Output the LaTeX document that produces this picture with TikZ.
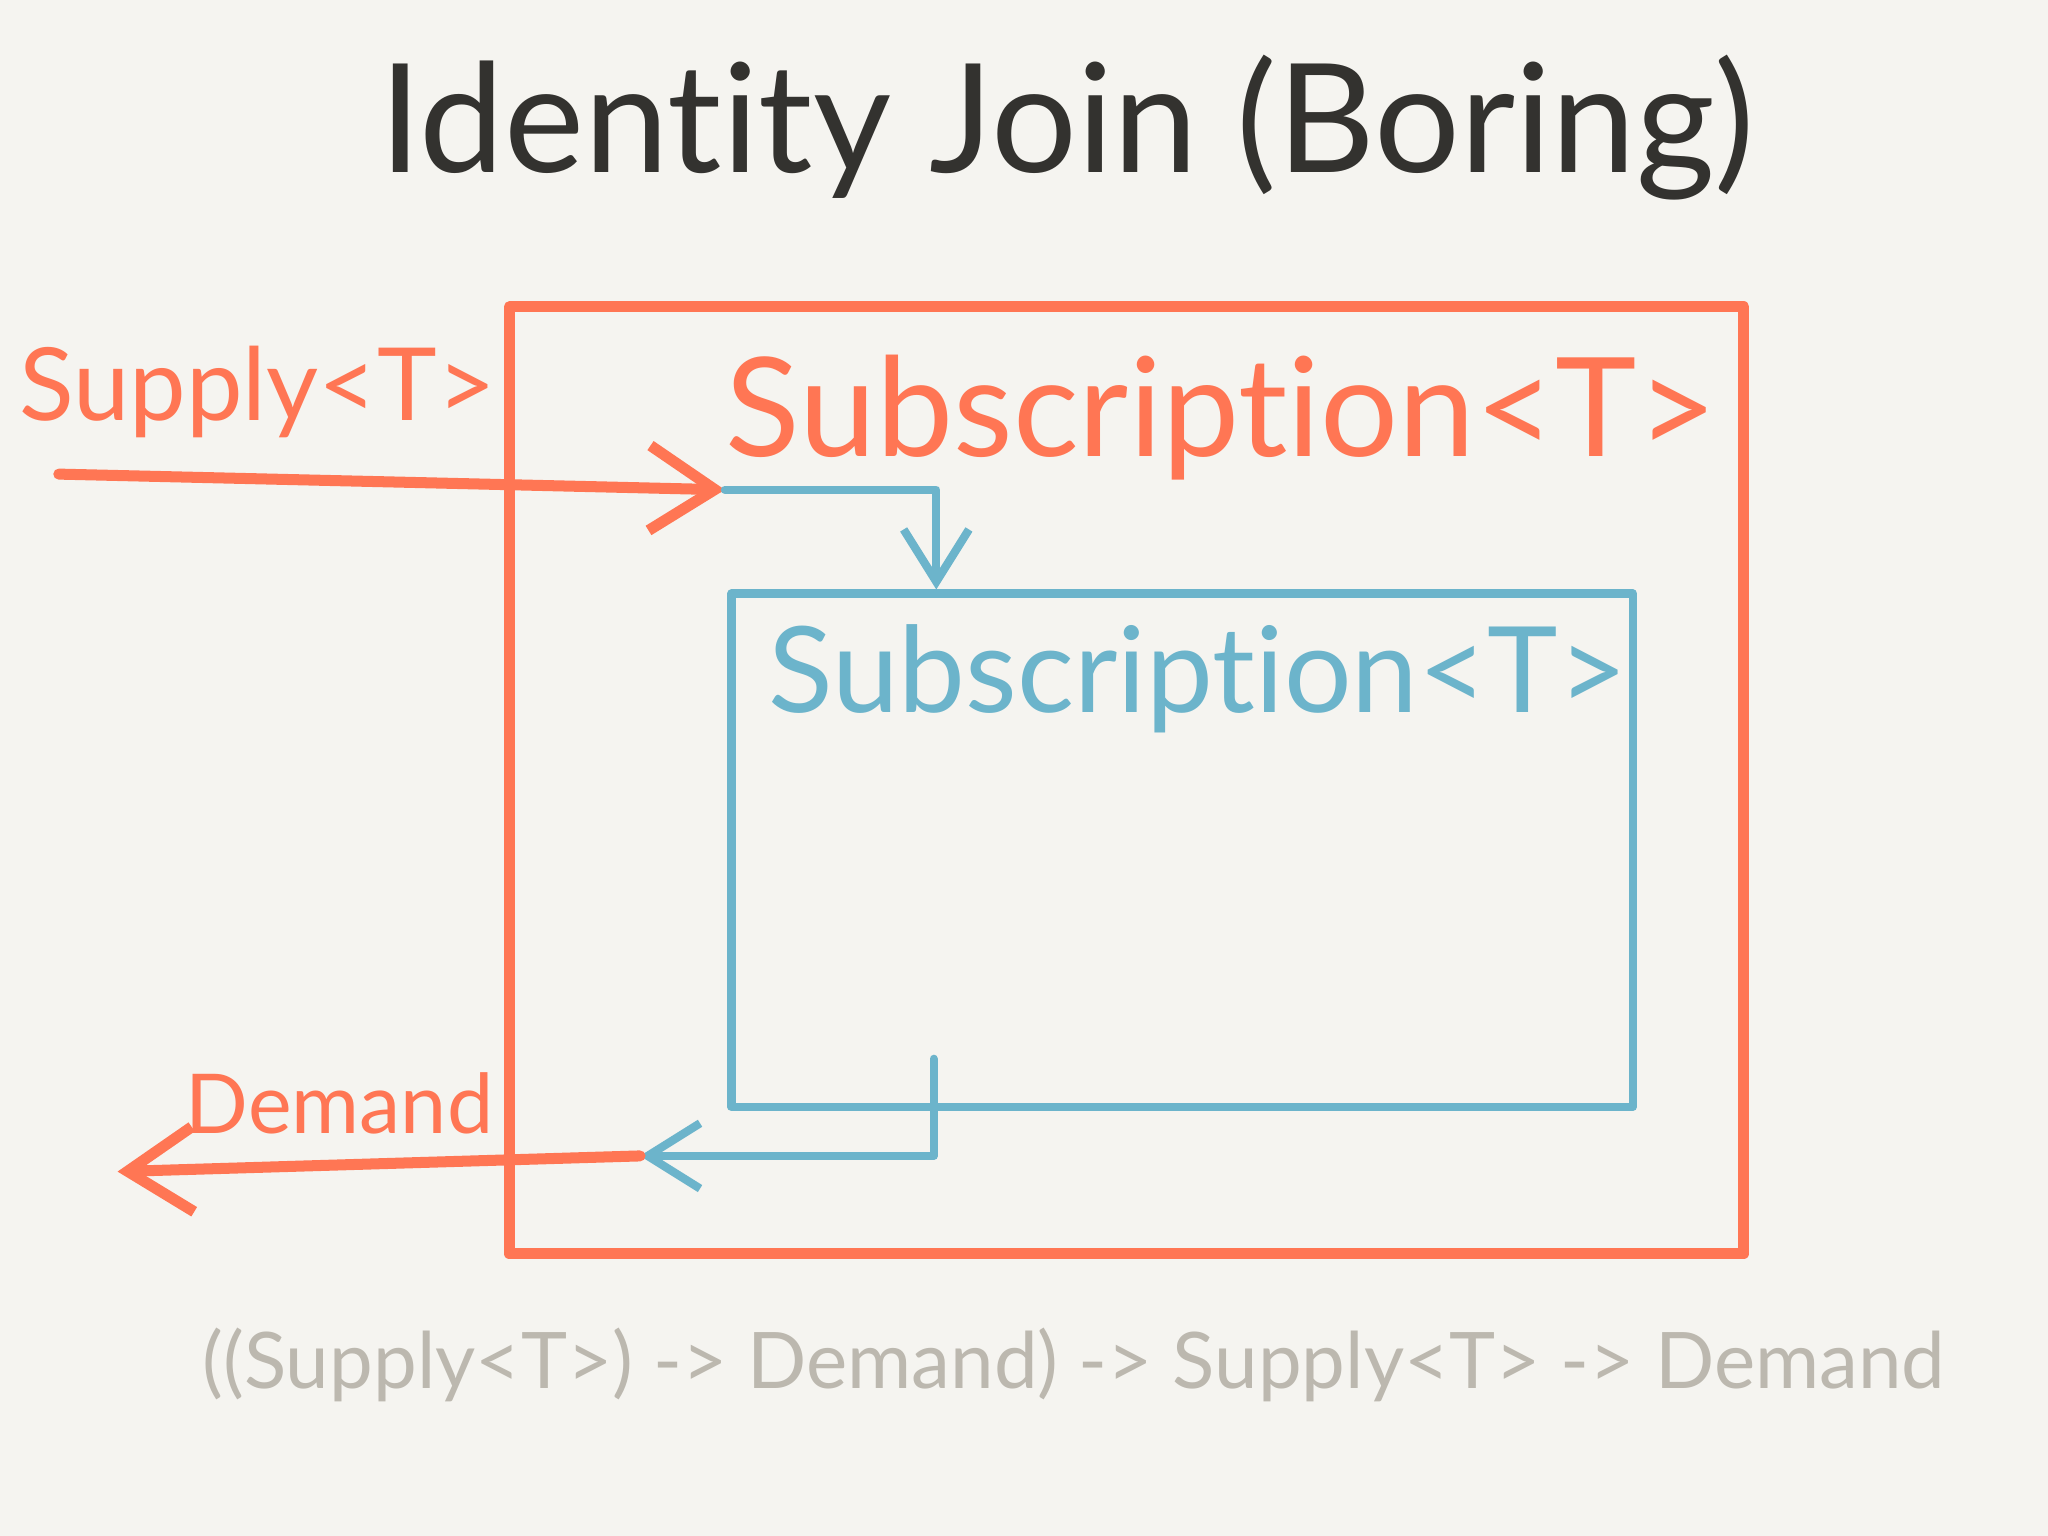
\documentclass[tikz,border=0pt]{standalone}
\usepackage{fontspec}
\setmainfont{Lato}[Ligatures=NoCommon]
\usetikzlibrary{arrows.meta}

\begin{document}
\begin{tikzpicture}[x=1cm, y=-1cm, line cap=round, line join=round]

\definecolor{paper}{RGB}{245, 244, 240}
\definecolor{inkorange}{RGB}{255, 118, 84}
\definecolor{inkblue}{RGB}{108, 180, 203}
\definecolor{inkdark}{RGB}{51, 50, 47}
\definecolor{inkgray}{RGB}{188, 184, 175}

% Fill paper
\fill[paper] (0,0) rectangle (15.68,11.76);
\useasboundingbox (0,0) rectangle (15.68,11.76);

\tikzset{
    outer box/.style={
        draw=inkorange, line width=2.4pt,
        minimum width=9.45cm, minimum height=7.25cm, inner sep=0pt
    },
    inner box/.style={
        draw=inkblue, line width=1.8pt,
        minimum width=6.9cm, minimum height=3.93cm, inner sep=0pt
    },
    orange wire/.style={
        draw=inkorange, line width=2.4pt,
        -{Straight Barb[length=5mm, width=6.5mm]}
    },
    blue wire/.style={
        draw=inkblue, line width=1.8pt,
        -{Straight Barb[length=4mm, width=5mm]}
    },
    orange label/.style={text=inkorange, inner sep=1pt},
    blue label/.style={text=inkblue, inner sep=1pt}
}

% Title
\node[text=inkdark, font=\fontsize{33}{38}\selectfont] (title) at (8.17, 0.98) {Identity Join (Boring)};

% Boxes
\node[outer box] (outer) at (8.625, 5.975) {};
\node[inner box] (inner) at (9.05, 6.51) {};

\node[orange label, font=\fontsize{30}{34}\selectfont] (outer label) at (9.35, 3.2) {Subscription<T>};
\node[blue label, font=\fontsize{26}{30}\selectfont] (inner label) at (9.17, 5.2) {Subscription<T>};

% Supply side
\node[orange label, font=\fontsize{22}{26}\selectfont] (supply) at (1.97, 3.0) {Supply<T>};
\coordinate (supply in) at (0.45, 3.63);
\coordinate (tap in) at (5.55, 3.75);
\draw[orange wire] (supply in) -- (tap in);
\draw[blue wire] (tap in) -| ([xshift=1.6cm]inner.north west);

% Demand side
\node[orange label, font=\fontsize{18}{22}\selectfont] (demand) at (2.6, 8.45) {Demand};
\coordinate (tap out) at (4.9, 8.85);
\coordinate (demand out) at (0.9, 8.97);
\draw[blue wire] ([xshift=1.58cm, yshift=0.4cm]inner.south west) |- (tap out);
\draw[orange wire] (tap out) -- (demand out);

% Signature
\node[text=inkgray, font=\fontsize{17}{21}\selectfont] (signature) at (8.22, 10.45) {((Supply<T>) -> Demand) -> Supply<T> -> Demand};

\end{tikzpicture}
\end{document}
